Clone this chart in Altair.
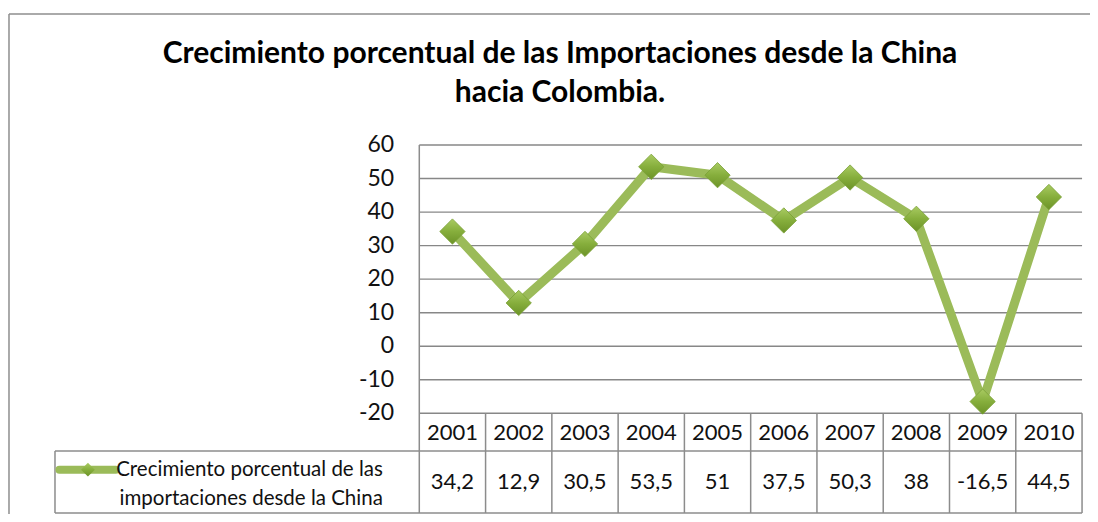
import altair as alt
import pandas as pd

# ---------------- data ----------------
years = ["2001", "2002", "2003", "2004", "2005", "2006", "2007", "2008", "2009", "2010"]
values = [34.2, 12.9, 30.5, 53.5, 51, 37.5, 50.3, 38, -16.5, 44.5]
y_ticks = [-20, -10, 0, 10, 20, 30, 40, 50, 60]
title_lines = ["Crecimiento porcentual de las Importaciones desde la China", "hacia Colombia."]
series_lines = ["Crecimiento porcentual de las", "importaciones desde la China"]

# ---------------- layout (scale units) ----------------
W, H = 1082, 376
X_DOM = [-6.206, 10.12]       # columns: year i occupies [i, i+1]
Y_DOM = [-50.02, 62.087]      # value units
HEADER_BOTTOM = -31.24
TABLE_BOTTOM = -49.73
LEG_LEFT = -5.497
OUT_LEFT = -6.191
OUT_TOP = 99.06
HEADER_Y = -25.87
VALUE_Y = -40.48
LEG_Y1, LEG_Y2 = -36.8, -45.5
LEG_TEXT_X = -0.55
YLAB_X = -0.38
TITLE_X = 2.123
TITLE_Y = [84.3, 72.7]

FONT = "Lato"
GREEN = "#9BBB59"
GRID = "#878787"
FRAME = "#8C8C8C"

xs = alt.Scale(domain=X_DOM, nice=False, zero=False)
ys = alt.Scale(domain=Y_DOM, nice=False, zero=False)


def X(f):
    return alt.X(f, type="quantitative", scale=xs, axis=None)


def Y(f):
    return alt.Y(f, type="quantitative", scale=ys, axis=None)


n = len(years)

series = pd.DataFrame({
    "year": years,
    "x": [i + 0.5 for i in range(n)],
    "value": values,
    "label": [f"{v:g}".replace(".", ",") for v in values],
    "hy": HEADER_Y,
    "vy": VALUE_Y,
})

grid = pd.DataFrame({"x": [0] * len(y_ticks), "x2": [n] * len(y_ticks),
                     "y": y_ticks, "y2": y_ticks})

frame_rows = [
    dict(x=LEG_LEFT, x2=n, y=HEADER_BOTTOM, y2=HEADER_BOTTOM),
    dict(x=LEG_LEFT, x2=n, y=TABLE_BOTTOM, y2=TABLE_BOTTOM),
    dict(x=LEG_LEFT, x2=LEG_LEFT, y=HEADER_BOTTOM, y2=TABLE_BOTTOM),
    dict(x=0, x2=0, y=y_ticks[-1], y2=TABLE_BOTTOM),
]
for i in range(1, n + 1):
    frame_rows.append(dict(x=i, x2=i, y=y_ticks[0], y2=TABLE_BOTTOM))
frame = pd.DataFrame(frame_rows)

outer = pd.DataFrame([
    dict(x=OUT_LEFT, x2=OUT_LEFT, y=OUT_TOP, y2=Y_DOM[0] - 5),
    dict(x=OUT_LEFT, x2=X_DOM[1] + 1, y=OUT_TOP, y2=OUT_TOP),
])

grid_layer = alt.Chart(grid).mark_rule(color=GRID, strokeWidth=1.4).encode(
    x=X("x"), x2="x2", y=Y("y"), y2="y2")
frame_layer = alt.Chart(frame).mark_rule(color=FRAME, strokeWidth=1.5).encode(
    x=X("x"), x2="x2", y=Y("y"), y2="y2")
outer_layer = alt.Chart(outer).mark_rule(color="#8E8E8E", strokeWidth=1.5).encode(
    x=X("x"), x2="x2", y=Y("y"), y2="y2")

title_df = pd.DataFrame({"t": title_lines, "x": [TITLE_X] * 2, "y": TITLE_Y})
title_layer = alt.Chart(title_df).mark_text(
    align="center", baseline="alphabetic", font=FONT, fontSize=30,
    fontWeight="bold", color="#000"
).encode(x=X("x"), y=Y("y"), text="t:N")

ylab = pd.DataFrame({"t": [str(t) for t in y_ticks], "v": y_ticks,
                     "x": [YLAB_X] * len(y_ticks)})
ylab_layer = alt.Chart(ylab).mark_text(
    align="right", baseline="middle", font=FONT, fontSize=23, color="#111"
).encode(x=X("x"), y=Y("v"), text="t:N")

line_layer = alt.Chart(series).mark_line(
    color=GREEN, strokeWidth=9, strokeJoin="round"
).encode(x=X("x"), y=Y("value"))

grad = alt.Gradient(
    gradient="linear",
    stops=[alt.GradientStop(color="#A9CB62", offset=0),
           alt.GradientStop(color="#86AE3C", offset=0.5),
           alt.GradientStop(color="#6C9328", offset=1)],
    x1=0, x2=0, y1=0, y2=1,
)
point_layer = alt.Chart(series).mark_point(
    shape="diamond", filled=True, size=640, fill=grad, opacity=1,
    stroke="#789F35", strokeWidth=0.8
).encode(x=X("x"), y=Y("value"))

header_layer = alt.Chart(series).mark_text(
    font=FONT, fontSize=22, color="#111", baseline="middle"
).encode(x=X("x"), y=Y("hy"), text="year:N")
value_layer = alt.Chart(series).mark_text(
    font=FONT, fontSize=22, color="#111", baseline="middle"
).encode(x=X("x"), y=Y("vy"), text="label:N")

leg_text = pd.DataFrame({"t": series_lines, "x": [LEG_TEXT_X] * 2, "y": [LEG_Y1, LEG_Y2]})
leg_text_layer = alt.Chart(leg_text).mark_text(
    align="right", baseline="middle", font=FONT, fontSize=20.5, color="#111"
).encode(x=X("x"), y=Y("y"), text="t:N")

leg_sym = pd.DataFrame({"x": [-5.43, -4.58], "y": [LEG_Y1, LEG_Y1]})
leg_line_layer = alt.Chart(leg_sym).mark_line(
    color=GREEN, strokeWidth=8, strokeCap="round"
).encode(x=X("x"), y=Y("y"))
leg_pt = pd.DataFrame({"x": [-5.0], "y": [LEG_Y1]})
leg_pt_layer = alt.Chart(leg_pt).mark_point(
    shape="diamond", filled=True, size=190, fill=grad, opacity=1
).encode(x=X("x"), y=Y("y"))

chart = alt.layer(
    outer_layer, grid_layer, frame_layer, title_layer, ylab_layer, line_layer,
    point_layer, header_layer, value_layer, leg_line_layer, leg_pt_layer,
    leg_text_layer,
).properties(
    width=W, height=H,
    autosize=alt.AutoSizeParams(type="none"),
    padding={"top": 130, "left": 0, "right": 0, "bottom": 0},
).configure_view(stroke=None)

chart.save("out.html", embed_options={"renderer": "svg", "actions": False})
